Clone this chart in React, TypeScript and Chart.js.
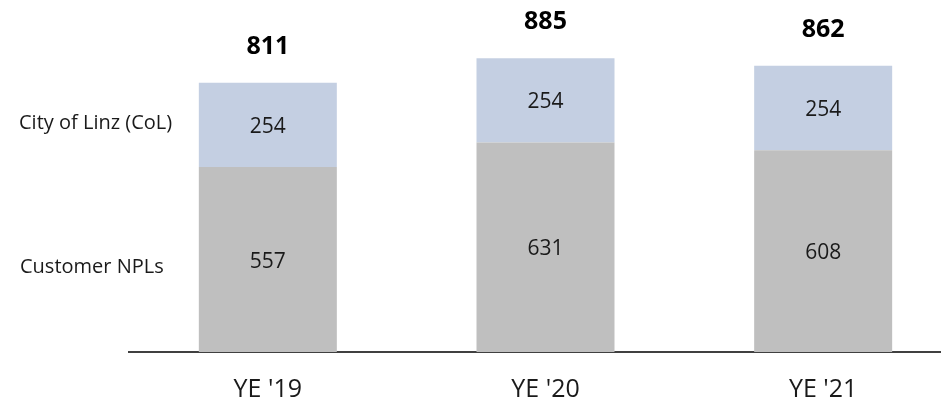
import React, { useEffect, useRef } from "react";
import { Chart, registerables } from "chart.js";

Chart.register(...registerables);

const categories = ["YE '19", "YE '20", "YE '21"];
const customerNPLs = [557, 631, 608];
const cityOfLinz = [254, 254, 254];
const seriesNames = ["Customer NPLs", "City of Linz (CoL)"];

const FONT = "'Open Sans', 'Noto Sans', sans-serif";

const labelsPlugin = {
  id: "labelsPlugin",
  afterDatasetsDraw(chart: any) {
    const { ctx } = chart;
    const yScale = chart.scales.y;
    ctx.save();
    ctx.textAlign = "center";
    ctx.textBaseline = "middle";
    chart.data.datasets.forEach((ds: any, di: number) => {
      const meta = chart.getDatasetMeta(di);
      meta.data.forEach((bar: any, i: number) => {
        const v = ds.data[i];
        const cy = (bar.y + bar.base) / 2;
        ctx.fillStyle = "#1a1a1a";
        ctx.font = `21px ${FONT}`;
        ctx.fillText(String(v), bar.x, cy + 2);
      });
    });
    const topMeta = chart.getDatasetMeta(1);
    topMeta.data.forEach((bar: any, i: number) => {
      const total = customerNPLs[i] + cityOfLinz[i];
      ctx.fillStyle = "#000";
      ctx.font = `bold 25px ${FONT}`;
      ctx.fillText(String(total), bar.x, yScale.getPixelForValue(total) - 36);
    });
    ctx.textAlign = "left";
    ctx.fillStyle = "#1a1a1a";
    ctx.font = `20px ${FONT}`;
    const colY = yScale.getPixelForValue(customerNPLs[0] + cityOfLinz[0] / 2);
    const npY = yScale.getPixelForValue(customerNPLs[0] / 2);
    ctx.fillText(seriesNames[1], 19, colY - 2);
    ctx.fillText(seriesNames[0], 20, npY + 8);
    ctx.restore();
  },
};

export default function App() {
  const ref = useRef<HTMLCanvasElement | null>(null);
  useEffect(() => {
    if (!ref.current) return;
    const chart = new Chart(ref.current, {
      type: "bar",
      data: {
        labels: categories,
        datasets: [
          {
            label: seriesNames[0],
            data: customerNPLs,
            backgroundColor: "#bfbfbf",
            borderWidth: 0,
            categoryPercentage: 1,
            barPercentage: 0.497,
          },
          {
            label: seriesNames[1],
            data: cityOfLinz,
            backgroundColor: "#c4cfe2",
            borderWidth: 0,
            categoryPercentage: 1,
            barPercentage: 0.497,
          },
        ],
      },
      options: {
        animation: false,
        responsive: false,
        maintainAspectRatio: false,
        layout: { padding: { left: 129, right: 0, top: 20, bottom: -23 } },
        plugins: { legend: { display: false }, tooltip: { enabled: false } },
        scales: {
          x: {
            stacked: true,
            grid: { display: false, drawTicks: false },
            border: { display: true, color: "#404040", width: 2 },
            ticks: {
              padding: 25,
              color: "#1a1a1a",
              maxRotation: 0,
              font: { family: FONT, size: 25, lineHeight: 1 },
            },
          },
          y: {
            stacked: true,
            display: false,
            min: 0,
            max: 1000,
          },
        },
      },
      plugins: [labelsPlugin],
    } as any);
    return () => chart.destroy();
  }, []);
  return (
    <div style={{ position: "fixed", left: 0, top: 0, width: 941, height: 404, overflow: "hidden", background: "#fff" }}>
      <canvas ref={ref} width={962} height={404} style={{ width: 962, height: 404, display: "block" }} />
    </div>
  );
}
